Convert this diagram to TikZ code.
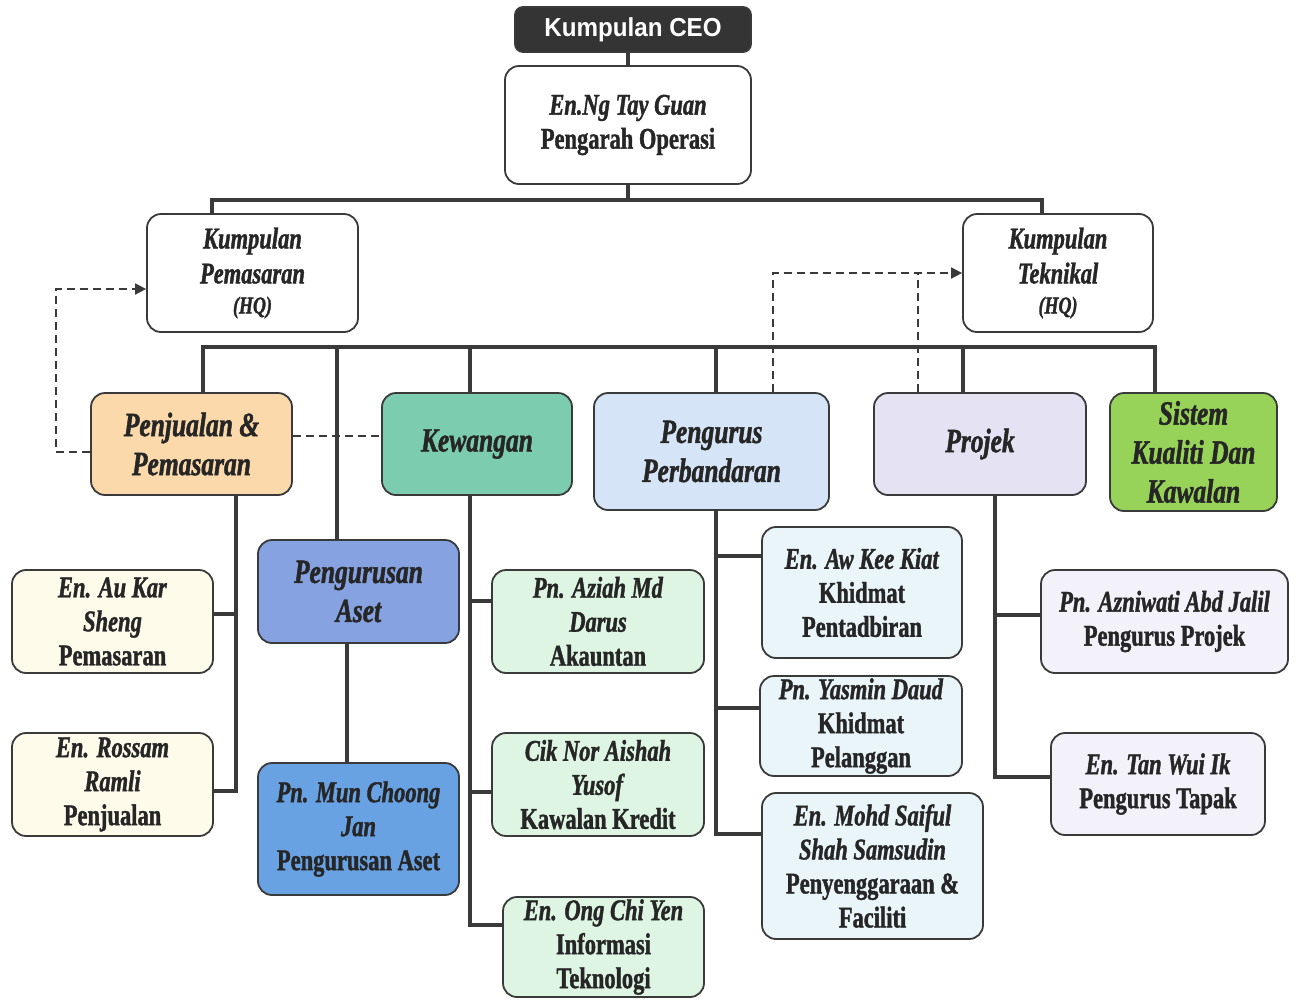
\documentclass[tikz,border=0pt]{standalone}
\usepackage{fontspec}
\setmainfont{Liberation Serif}[FakeStretch=0.75,
  BoldFont=Liberation Serif Bold, BoldFeatures={FakeBold=1.3},
  BoldItalicFont=Liberation Serif Bold Italic, BoldItalicFeatures={FakeBold=1.3}]
\newfontfamily\ceofont{Liberation Sans}[FakeStretch=0.93]
\usetikzlibrary{arrows, arrows.meta}
\usetikzlibrary{calc}

\definecolor{ceogray}{RGB}{52,52,52}
\definecolor{edgegray}{RGB}{58,58,58}
\definecolor{penjfill}{RGB}{251,217,170}
\definecolor{kewfill}{RGB}{124,205,176}
\definecolor{perbfill}{RGB}{213,228,247}
\definecolor{projfill}{RGB}{229,227,243}
\definecolor{sistfill}{RGB}{151,211,88}
\definecolor{asetfill}{RGB}{134,162,224}
\definecolor{munfill}{RGB}{104,162,226}
\definecolor{creamfill}{RGB}{255,251,234}
\definecolor{mintfill}{RGB}{221,245,226}
\definecolor{skyfill}{RGB}{234,245,250}
\definecolor{lilacfill}{RGB}{243,241,250}

\newcommand{\nama}[1]{\textit{#1}}

\tikzset{
  box/.style={draw=edgegray, line width=1.8pt, rounded corners=14pt, inner sep=0pt,
    align=center, text=black!85, font=\fontsize{30}{34}\selectfont\bfseries},
  bigbox/.style={box, font=\fontsize{34}{39}\selectfont\bfseries\itshape},
  conn/.style={draw=edgegray, line width=4pt},
  dashline/.style={draw=edgegray, line width=1.8pt, dash pattern=on 8pt off 5pt},
  tip/.style={-{Triangle[length=11pt,width=11pt]}}
}

\begin{document}
\begin{tikzpicture}[x=1pt, y=-1pt]
  \useasboundingbox (0,0) rectangle (1296,999);

  % top levels
  \node[box, fill=ceogray, text=white, minimum width=236pt, minimum height=45pt, rounded corners=8pt,
    font=\ceofont\fontsize{26}{30}\selectfont\bfseries] (ceo) at (633,29.5) {Kumpulan CEO};
  \node[box, minimum width=246pt, minimum height=118pt] (ops) at (628,125)
    {\nama{En.Ng Tay Guan}\\Pengarah Operasi};
  \node[box, font=\fontsize{30}{35}\selectfont\bfseries\itshape, minimum width=211pt, minimum height=118pt] (pemhq) at (252.5,273)
    {Kumpulan\\Pemasaran\\[-5pt]{\fontsize{24}{28}\selectfont(HQ)}};
  \node[box, font=\fontsize{30}{35}\selectfont\bfseries\itshape, minimum width=190pt, minimum height=118pt] (tekhq) at (1058,273)
    {Kumpulan\\Teknikal\\[-5pt]{\fontsize{24}{28}\selectfont(HQ)}};

  % departments
  \node[bigbox, fill=penjfill, minimum width=201pt, minimum height=102pt] (penj) at (191.5,444) {Penjualan \&\\Pemasaran};
  \node[bigbox, fill=kewfill, minimum width=190pt, minimum height=102pt] (kew) at (477,444) {Kewangan};
  \node[bigbox, fill=perbfill, minimum width=235pt, minimum height=117pt] (perb) at (711.5,451.5) {Pengurus\\Perbandaran};
  \node[bigbox, fill=projfill, minimum width=212pt, minimum height=102pt] (proj) at (980,444) {Projek};
  \node[bigbox, fill=sistfill, minimum width=167pt, minimum height=118pt] (sistem) at (1193.5,452) {Sistem\\Kualiti Dan\\Kawalan};
  \node[bigbox, fill=asetfill, minimum width=201pt, minimum height=103pt] (aset) at (358.5,591.5) {Pengurusan\\Aset};

  % staff
  \node[box, fill=munfill, minimum width=201pt, minimum height=132pt] (mun) at (358.5,829)
    {\nama{Pn. Mun Choong}\\\nama{Jan}\\Pengurusan Aset};
  \node[box, fill=creamfill, minimum width=201pt, minimum height=103pt] (aukar) at (112.5,621.5)
    {\nama{En. Au Kar}\\\nama{Sheng}\\Pemasaran};
  \node[box, fill=creamfill, minimum width=201pt, minimum height=103pt] (rossam) at (112.5,784.5)
    {\nama{En. Rossam}\\\nama{Ramli}\\Penjualan};
  \node[box, fill=mintfill, minimum width=212pt, minimum height=103pt] (aziah) at (598,621.5)
    {\nama{Pn. Aziah Md}\\\nama{Darus}\\Akauntan};
  \node[box, fill=mintfill, minimum width=212pt, minimum height=103pt] (ciknor) at (598,784.5)
    {\nama{Cik Nor Aishah}\\\nama{Yusof}\\Kawalan Kredit};
  \node[box, fill=mintfill, minimum width=201pt, minimum height=100pt] (ong) at (603.5,947)
    {\nama{En. Ong Chi Yen}\\Informasi\\Teknologi};
  \node[box, fill=skyfill, minimum width=200pt, minimum height=131pt] (awkee) at (862,592.5)
    {\nama{En. Aw Kee Kiat}\\Khidmat\\Pentadbiran};
  \node[box, fill=skyfill, minimum width=202pt, minimum height=100pt] (yasmin) at (861,726)
    {\nama{Pn. Yasmin Daud}\\Khidmat\\Pelanggan};
  \node[box, fill=skyfill, minimum width=221pt, minimum height=146pt] (mohd) at (872.5,866)
    {\nama{En. Mohd Saiful}\\\nama{Shah Samsudin}\\Penyenggaraan \&\\Faciliti};
  \node[box, fill=lilacfill, minimum width=247pt, minimum height=103pt] (azni) at (1164.5,621.5)
    {\nama{Pn. Azniwati Abd Jalil}\\Pengurus Projek};
  \node[box, fill=lilacfill, minimum width=214pt, minimum height=102pt] (tan) at (1158,784)
    {\nama{En. Tan Wui Ik}\\Pengurus Tapak};

  % upper bars
  \coordinate (barL) at (212,200);
  \coordinate (barR) at (1042,200);
  \draw[conn] (ceo.south -| ops.north) -- (ops.north);
  \draw[conn] (ops.south) -- (ops.south |- barL);
  \draw[conn] (pemhq.north -| barL) -- (barL) -- (barR) -- (tekhq.north -| barR);

  \coordinate (busL) at (203,347);
  \coordinate (busR) at (1155,347);
  \draw[conn] (penj.north -| busL) -- (busL) -- (busR) -- (sistem.north -| busR);
  \foreach \x/\b in {337/aset, 470/kew, 716/perb, 963/proj} {
    \coordinate (t\b) at (\x,347);
    \draw[conn] (t\b) -- (t\b |- \b.north);
  }

  % columns
  \coordinate (tA) at (236,0);
  \coordinate (bAukar) at ($(aukar.east)+(0,-8)$);
  \coordinate (bRossam) at ($(rossam.east)+(0,6)$);
  \draw[conn] (penj.south -| tA) -- (bRossam -| tA) -- (bRossam);
  \draw[conn] (bAukar) -- (bAukar -| tA);

  \coordinate (tC) at (347,0);
  \draw[conn] (aset.south -| tC) -- (mun.north -| tC);

  \coordinate (tB) at (470,0);
  \coordinate (bAziah) at ($(aziah.west)+(0,-21)$);
  \coordinate (bCik) at ($(ciknor.west)+(0,7)$);
  \coordinate (bOng) at ($(ong.west)+(0,-22)$);
  \draw[conn] (kew.south -| tB) -- (bOng -| tB) -- (bOng);
  \draw[conn] (bAziah -| tB) -- (bAziah);
  \draw[conn] (bCik -| tB) -- (bCik);

  \coordinate (tD) at (716,0);
  \coordinate (bAw) at ($(awkee.west)+(0,-37)$);
  \coordinate (bYas) at ($(yasmin.west)+(0,-18)$);
  \coordinate (bMohd) at ($(mohd.west)+(0,-32)$);
  \draw[conn] (perb.south -| tD) -- (bMohd -| tD) -- (bMohd);
  \draw[conn] (bAw -| tD) -- (bAw);
  \draw[conn] (bYas -| tD) -- (bYas);

  \coordinate (tE) at (995,0);
  \coordinate (bAzni) at ($(azni.west)+(0,-7)$);
  \coordinate (bTan) at ($(tan.west)+(0,-7)$);
  \draw[conn] (proj.south -| tE) -- (bTan -| tE) -- (bTan);
  \draw[conn] (bAzni -| tE) -- (bAzni);

  % dashed links
  \draw[dashline, tip] ($(penj.west)+(0,8)$) -- ++(-34,0) |- ($(pemhq.west)+(0,16)$);
  \draw[dashline] ($(penj.east)+(0,-8)$) -- ($(kew.west)+(0,-8)$);
  \coordinate (dP) at (773,0);
  \coordinate (dQ) at (918,0);
  \draw[dashline, tip] (perb.north -| dP) |- (tekhq.west);
  \draw[dashline] (proj.north -| dQ) -- (tekhq.west -| dQ);
\end{tikzpicture}
\end{document}
